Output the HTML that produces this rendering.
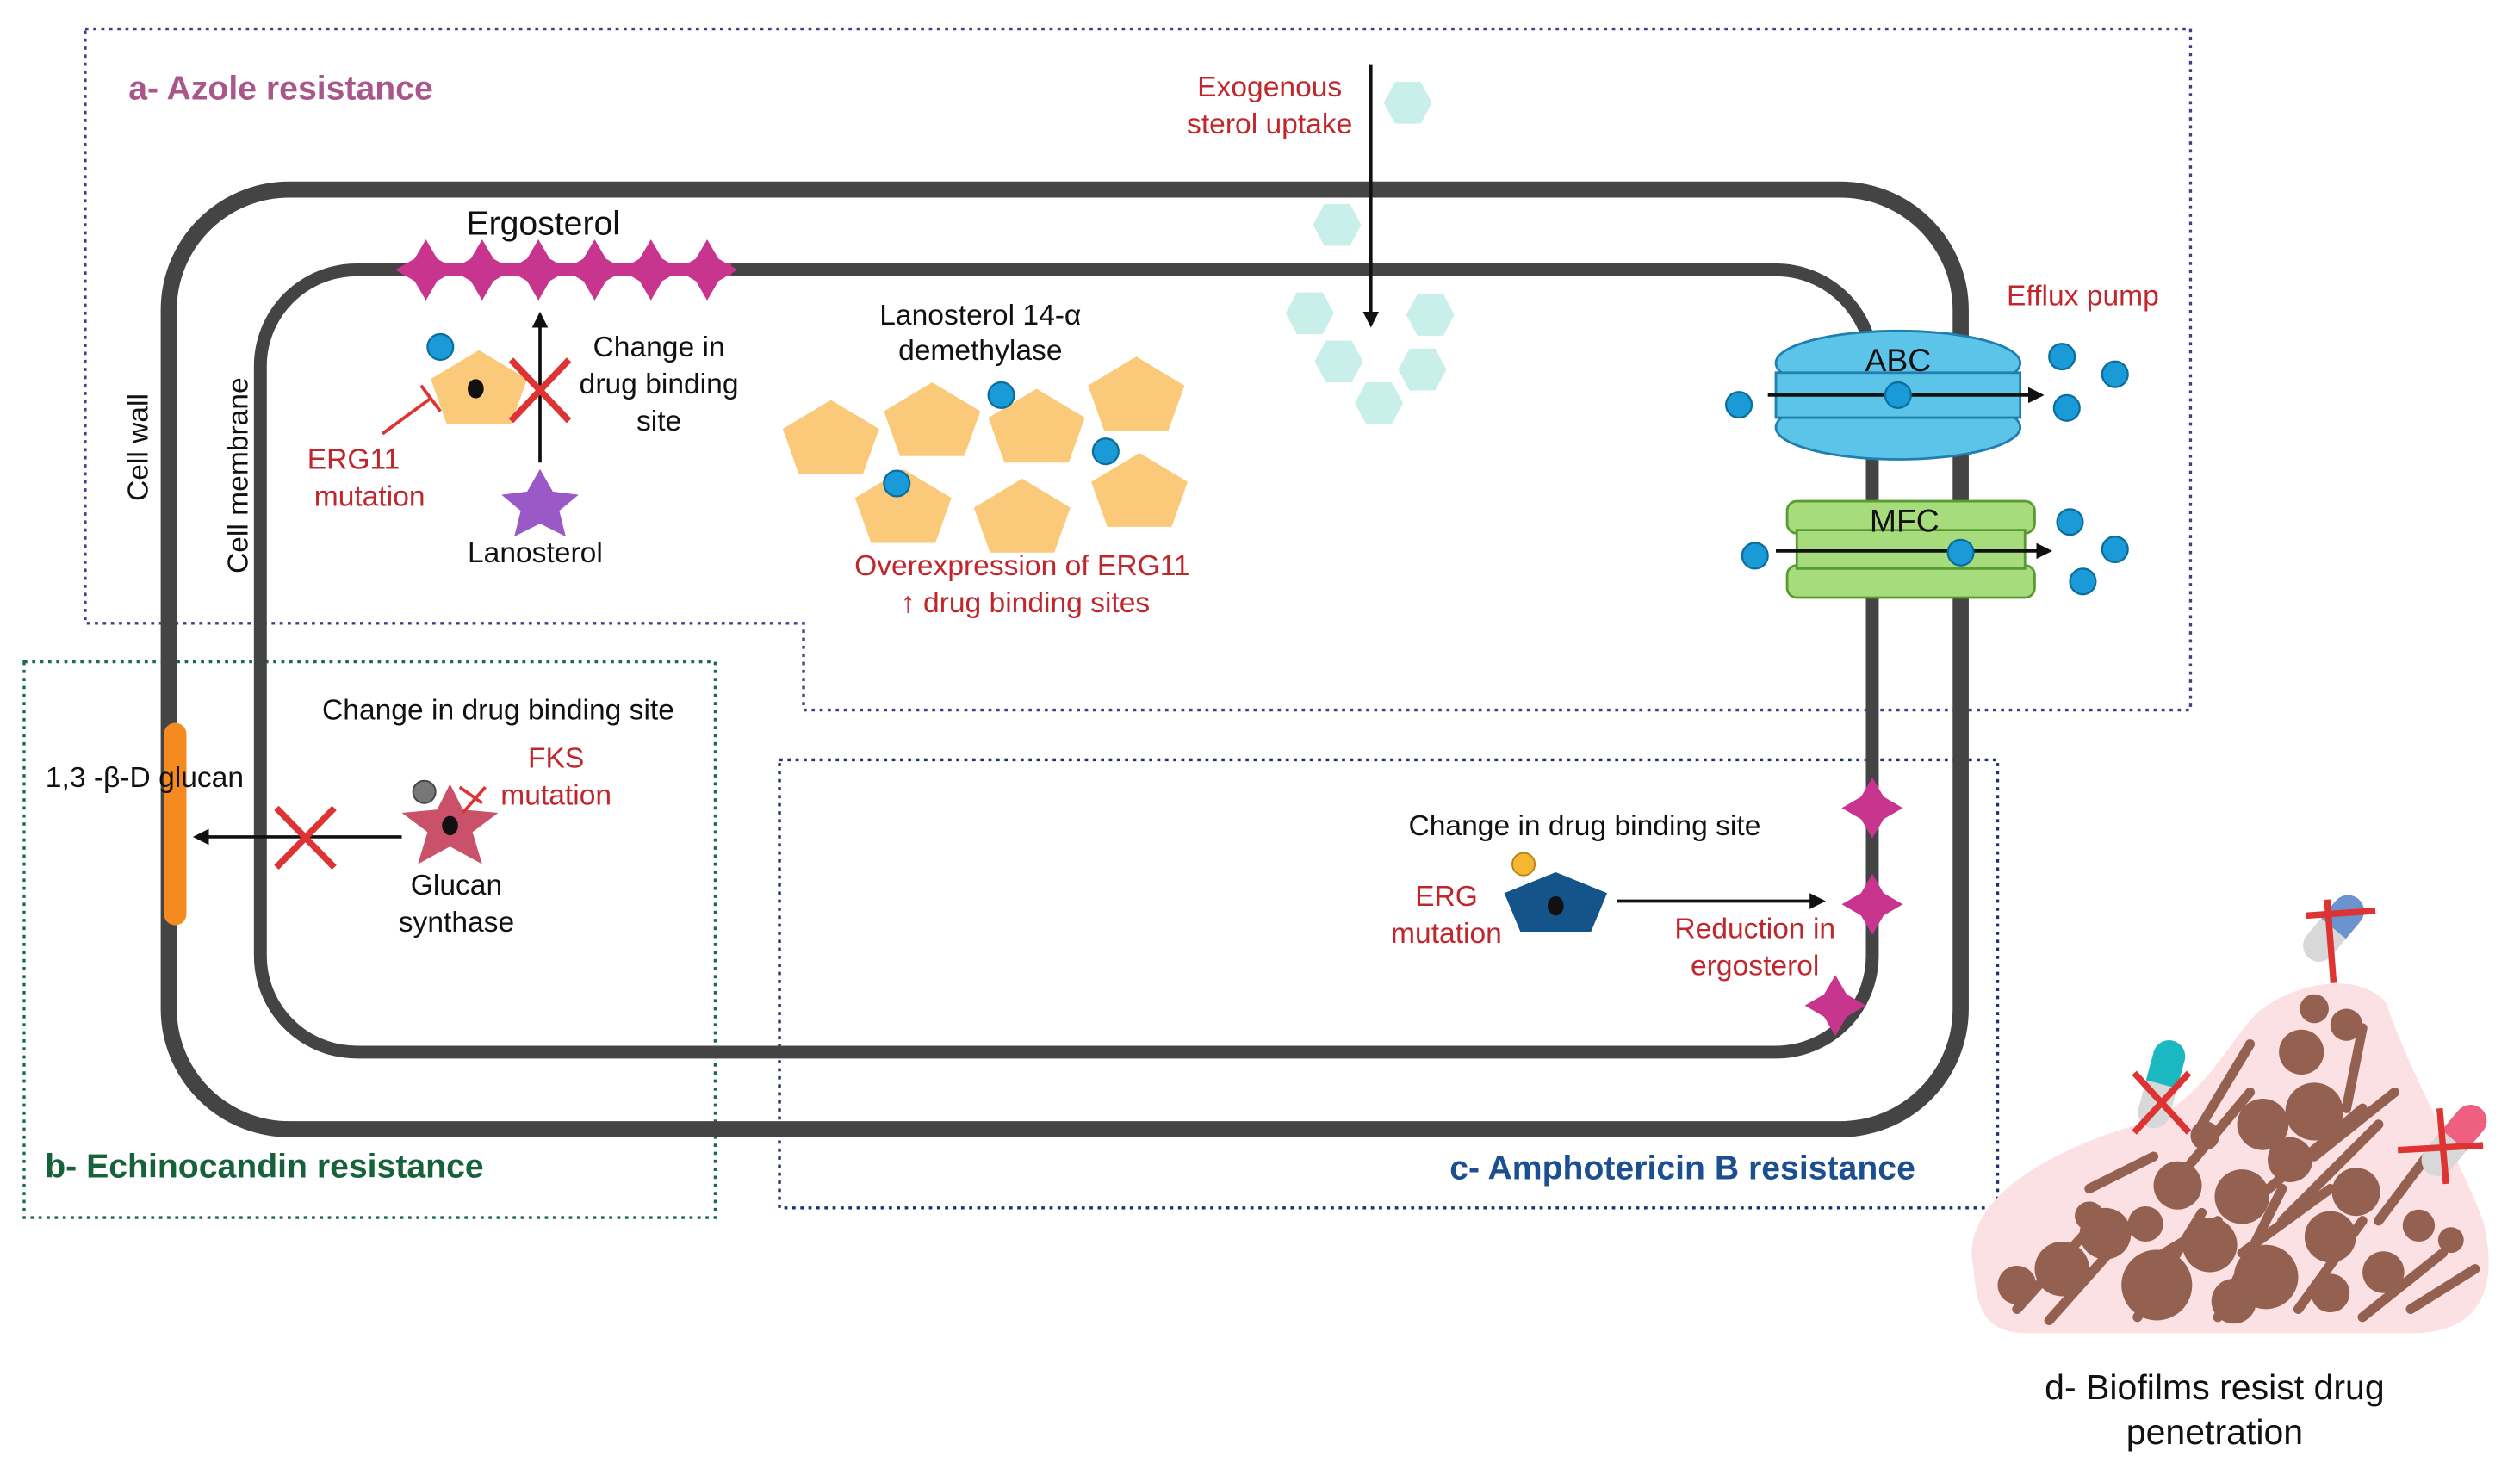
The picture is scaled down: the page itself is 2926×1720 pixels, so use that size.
<!DOCTYPE html>
<html><head><meta charset="utf-8"><style>
html,body{margin:0;padding:0;background:#fff}
svg{display:block}
text{font-family:"Liberation Sans",sans-serif}
</style></head><body>
<svg width="2926" height="1720" viewBox="0 0 1568 922" preserveAspectRatio="none" xmlns="http://www.w3.org/2000/svg">
<defs>
<polygon id="pent" points="0,-24 30,-6 20,22 -20,22 -30,-6" fill="#fbc97a"/>
<polygon id="star4" points="-19,0 -7,-7 0,-19 7,-7 19,0 7,7 0,19 -7,7" fill="#c8358f"/>
<polygon id="hex" points="-8,-13 8,-13 15,0 8,13 -8,13 -15,0" fill="#c8efe9"/>
<circle id="dot" r="8" fill="#1a9ad6" stroke="#0b6d9c" stroke-width="1.2"/>
<marker id="ah" markerWidth="10" markerHeight="10" refX="8" refY="5" orient="auto" markerUnits="userSpaceOnUse"><path d="M0,0 L10,5 L0,10 z" fill="#111"/></marker>
</defs>

<polygon points="53,18 1363,18 1363,442 500,442 500,388 53,388" fill="none" stroke="#4b3a8c" stroke-width="1.8" stroke-dasharray="2,3"/>
<rect x="15" y="412" width="430" height="346" fill="none" stroke="#1e6b4a" stroke-width="1.8" stroke-dasharray="2,3"/>
<rect x="485" y="473" width="758" height="279" fill="none" stroke="#1e2f6b" stroke-width="1.8" stroke-dasharray="2,3"/>

<rect x="105" y="118" width="1115" height="585" rx="75" fill="none" stroke="#444" stroke-width="10"/>
<rect x="162" y="168" width="1003" height="487" rx="60" fill="none" stroke="#444" stroke-width="8"/>

<text x="80" y="62" font-size="21" font-weight="bold" fill="#a9578a">a- Azole resistance</text>
<text x="28" y="733" font-size="21" font-weight="bold" fill="#17623a">b- Echinocandin resistance</text>
<text x="902" y="734" font-size="21" font-weight="bold" fill="#1b4f8f">c- Amphotericin B resistance</text>

<text transform="translate(92,312) rotate(-90)" font-size="18" fill="#111">Cell wall</text>
<text transform="translate(154,357) rotate(-90)" font-size="18" fill="#111">Cell membrane</text>

<text x="338" y="146" font-size="21" text-anchor="middle" fill="#111">Ergosterol</text>
<rect x="255" y="164" width="200" height="8" fill="#c8358f"/>
<use href="#star4" x="265" y="168"/><use href="#star4" x="300" y="168"/><use href="#star4" x="335" y="168"/><use href="#star4" x="370" y="168"/><use href="#star4" x="405" y="168"/><use href="#star4" x="440" y="168"/>

<use href="#pent" x="298" y="242"/>
<ellipse cx="296" cy="242" rx="5" ry="6" fill="#111"/>
<use href="#dot" x="274" y="216"/>
<line x1="336" y1="288" x2="336" y2="196" stroke="#111" stroke-width="2" marker-end="url(#ah)"/>
<line x1="318" y1="224" x2="354" y2="262" stroke="#d33" stroke-width="4"/>
<line x1="354" y1="224" x2="318" y2="262" stroke="#d33" stroke-width="4"/>
<polygon points="336,292 344,306 360,308 348,318 352,334 336,326 320,334 324,318 312,308 328,306" fill="#9b59c7"/>
<text x="333" y="350" font-size="18" text-anchor="middle" fill="#111">Lanosterol</text>
<text x="410" y="222" font-size="18" text-anchor="middle" fill="#111">Change in</text>
<text x="410" y="245" font-size="18" text-anchor="middle" fill="#111">drug binding</text>
<text x="410" y="268" font-size="18" text-anchor="middle" fill="#111">site</text>
<line x1="268" y1="248" x2="238" y2="270" stroke="#d33" stroke-width="2"/>
<line x1="262" y1="240" x2="274" y2="256" stroke="#d33" stroke-width="2"/>
<text x="220" y="292" font-size="18" text-anchor="middle" fill="#c0272d">ERG11</text>
<text x="230" y="315" font-size="18" text-anchor="middle" fill="#c0272d">mutation</text>

<text x="610" y="202" font-size="18" text-anchor="middle" fill="#111">Lanosterol 14-α</text>
<text x="610" y="224" font-size="18" text-anchor="middle" fill="#111">demethylase</text>
<use href="#pent" x="517" y="273"/><use href="#pent" x="580" y="262"/><use href="#pent" x="645" y="266"/><use href="#pent" x="707" y="246"/>
<use href="#pent" x="562" y="316"/><use href="#pent" x="636" y="322"/><use href="#pent" x="709" y="306"/>
<use href="#dot" x="623" y="246"/><use href="#dot" x="688" y="281"/><use href="#dot" x="558" y="301"/>
<text x="636" y="358" font-size="18" text-anchor="middle" fill="#c0272d">Overexpression of ERG11</text>
<text x="638" y="381" font-size="18" text-anchor="middle" fill="#c0272d">↑ drug binding sites</text>

<text x="790" y="60" font-size="18" text-anchor="middle" fill="#c0272d">Exogenous</text>
<text x="790" y="83" font-size="18" text-anchor="middle" fill="#c0272d">sterol uptake</text>
<line x1="853" y1="40" x2="853" y2="202" stroke="#111" stroke-width="2" marker-end="url(#ah)"/>
<use href="#hex" x="876" y="64"/><use href="#hex" x="832" y="140"/><use href="#hex" x="815" y="195"/><use href="#hex" x="890" y="196"/><use href="#hex" x="833" y="225"/><use href="#hex" x="885" y="230"/><use href="#hex" x="858" y="251"/>

<text x="1296" y="190" font-size="18" text-anchor="middle" fill="#c0272d">Efflux pump</text>
<ellipse cx="1181" cy="226" rx="76" ry="20" fill="#5cc4e8" stroke="#1f7fae" stroke-width="1.5"/>
<ellipse cx="1181" cy="266" rx="76" ry="20" fill="#5cc4e8" stroke="#1f7fae" stroke-width="1.5"/>
<rect x="1105" y="232" width="152" height="28" fill="#5cc4e8" stroke="#1f7fae" stroke-width="1.5"/>
<text x="1181" y="231" font-size="20" text-anchor="middle" fill="#111">ABC</text>
<line x1="1100" y1="246" x2="1270" y2="246" stroke="#111" stroke-width="2" marker-end="url(#ah)"/>
<use href="#dot" x="1082" y="252"/><use href="#dot" x="1181" y="246"/><use href="#dot" x="1283" y="222"/><use href="#dot" x="1316" y="233"/><use href="#dot" x="1286" y="254"/>
<rect x="1112" y="312" width="154" height="20" rx="6" fill="#a6dc7b" stroke="#5a9a34" stroke-width="1.5"/>
<rect x="1112" y="352" width="154" height="20" rx="6" fill="#a6dc7b" stroke="#5a9a34" stroke-width="1.5"/>
<rect x="1118" y="330" width="142" height="24" fill="#a6dc7b" stroke="#5a9a34" stroke-width="1.5"/>
<text x="1185" y="331" font-size="20" text-anchor="middle" fill="#111">MFC</text>
<line x1="1105" y1="343" x2="1275" y2="343" stroke="#111" stroke-width="2" marker-end="url(#ah)"/>
<use href="#dot" x="1092" y="346"/><use href="#dot" x="1220" y="344"/><use href="#dot" x="1288" y="325"/><use href="#dot" x="1316" y="342"/><use href="#dot" x="1296" y="362"/>

<text x="310" y="448" font-size="18" text-anchor="middle" fill="#111">Change in drug binding site</text>
<rect x="102" y="450" width="14" height="126" rx="7" fill="#f58a1f"/>
<text x="90" y="490" font-size="18" text-anchor="middle" fill="#111">1,3 -β-D glucan</text>
<line x1="250" y1="521" x2="122" y2="521" stroke="#111" stroke-width="2" marker-end="url(#ah)"/>
<line x1="172" y1="503" x2="208" y2="540" stroke="#d33" stroke-width="4"/>
<line x1="208" y1="503" x2="172" y2="540" stroke="#d33" stroke-width="4"/>
<polygon points="280,488 288,504 310,506 294,518 300,538 280,527 260,538 266,518 250,506 272,504" fill="#c9516a"/>
<ellipse cx="280" cy="514" rx="5" ry="6" fill="#111"/>
<circle cx="264" cy="493" r="7" fill="#777" stroke="#444"/>
<line x1="288" y1="506" x2="302" y2="490" stroke="#d33" stroke-width="2"/>
<line x1="286" y1="490" x2="300" y2="500" stroke="#d33" stroke-width="2"/>
<text x="346" y="478" font-size="18" text-anchor="middle" fill="#c0272d">FKS</text>
<text x="346" y="501" font-size="18" text-anchor="middle" fill="#c0272d">mutation</text>
<text x="284" y="557" font-size="18" text-anchor="middle" fill="#111">Glucan</text>
<text x="284" y="580" font-size="18" text-anchor="middle" fill="#111">synthase</text>

<text x="986" y="520" font-size="18" text-anchor="middle" fill="#111">Change in drug binding site</text>
<polygon points="968,543 1000,556 990,580 946,580 936,556" fill="#14548a"/>
<ellipse cx="968" cy="564" rx="5" ry="6" fill="#111"/>
<circle cx="948" cy="538" r="7" fill="#f5b731" stroke="#b8801a"/>
<text x="900" y="564" font-size="18" text-anchor="middle" fill="#c0272d">ERG</text>
<text x="900" y="587" font-size="18" text-anchor="middle" fill="#c0272d">mutation</text>
<line x1="1006" y1="561" x2="1134" y2="561" stroke="#111" stroke-width="2" marker-end="url(#ah)"/>
<text x="1092" y="584" font-size="18" text-anchor="middle" fill="#c0272d">Reduction in</text>
<text x="1092" y="607" font-size="18" text-anchor="middle" fill="#c0272d">ergosterol</text>
<use href="#star4" x="1165" y="503"/>
<use href="#star4" x="1165" y="563"/>
<use href="#star4" x="1142" y="626"/>

<!-- biofilm -->
<path d="M1228,790 C1218,745 1280,715 1330,700 C1370,688 1385,650 1405,630 C1430,610 1470,605 1485,625 C1500,670 1530,720 1545,760 C1555,800 1545,830 1500,830 L1262,830 C1235,830 1230,815 1228,790 Z" fill="#fbe0e4"/>
<g stroke="#94604f" stroke-width="6" fill="none" stroke-linecap="round">
<path d="M1255,815 L1300,765 M1275,822 L1330,760 M1330,820 L1370,755 M1380,820 L1420,740 M1430,815 L1470,760 M1470,820 L1520,780 M1500,815 L1540,790 M1400,750 L1470,690 M1350,740 L1400,680 M1420,760 L1480,700 M1370,700 L1400,650 M1440,720 L1490,680 M1460,690 L1470,640 M1300,740 L1340,720 M1395,780 L1450,740 M1480,760 L1510,720 M1330,790 L1380,760"/>
</g>
<g fill="#94604f">
<circle cx="1342" cy="800" r="22"/><circle cx="1410" cy="795" r="20"/><circle cx="1283" cy="790" r="17"/><circle cx="1310" cy="768" r="16"/><circle cx="1375" cy="775" r="17"/>
<circle cx="1355" cy="738" r="15"/><circle cx="1395" cy="745" r="17"/><circle cx="1450" cy="770" r="16"/><circle cx="1483" cy="792" r="13"/>
<circle cx="1408" cy="700" r="16"/><circle cx="1440" cy="692" r="18"/><circle cx="1432" cy="655" r="14"/><circle cx="1425" cy="722" r="14"/><circle cx="1466" cy="742" r="15"/>
<circle cx="1505" cy="763" r="10"/><circle cx="1525" cy="772" r="8"/><circle cx="1335" cy="762" r="11"/><circle cx="1300" cy="757" r="9"/><circle cx="1372" cy="707" r="9"/>
<circle cx="1460" cy="638" r="10"/><circle cx="1440" cy="628" r="9"/><circle cx="1450" cy="805" r="12"/><circle cx="1390" cy="810" r="14"/><circle cx="1255" cy="800" r="12"/>
</g>
<g transform="translate(1452,578) rotate(40)"><rect x="-10" y="-24" width="20" height="48" rx="10" fill="#d8d8d8"/><path d="M-10,0 L-10,-14 A10,10 0 0 1 10,-14 L10,0 Z" fill="#6a93cf"/></g>
<line x1="1435" y1="570" x2="1478" y2="567" stroke="#d33" stroke-width="4"/><line x1="1448" y1="560" x2="1452" y2="612" stroke="#d33" stroke-width="4"/>
<g transform="translate(1345,675) rotate(15)"><rect x="-10" y="-28" width="20" height="56" rx="10" fill="#d8d8d8"/><path d="M-10,0 L-10,-18 A10,10 0 0 1 10,-18 L10,0 Z" fill="#1bb8c2"/></g>
<line x1="1328" y1="668" x2="1362" y2="705" stroke="#d33" stroke-width="4"/><line x1="1362" y1="668" x2="1328" y2="705" stroke="#d33" stroke-width="4"/>
<g transform="translate(1527,710) rotate(40)"><rect x="-10" y="-26" width="20" height="52" rx="10" fill="#d8d8d8"/><path d="M-10,0 L-10,-16 A10,10 0 0 1 10,-16 L10,0 Z" fill="#ef5f80"/></g>
<line x1="1492" y1="716" x2="1545" y2="713" stroke="#d33" stroke-width="4"/><line x1="1518" y1="690" x2="1522" y2="737" stroke="#d33" stroke-width="4"/>

<text x="1378" y="871" font-size="22" text-anchor="middle" fill="#111">d- Biofilms resist drug</text>
<text x="1378" y="899" font-size="22" text-anchor="middle" fill="#111">penetration</text>
</svg>
</body></html>
